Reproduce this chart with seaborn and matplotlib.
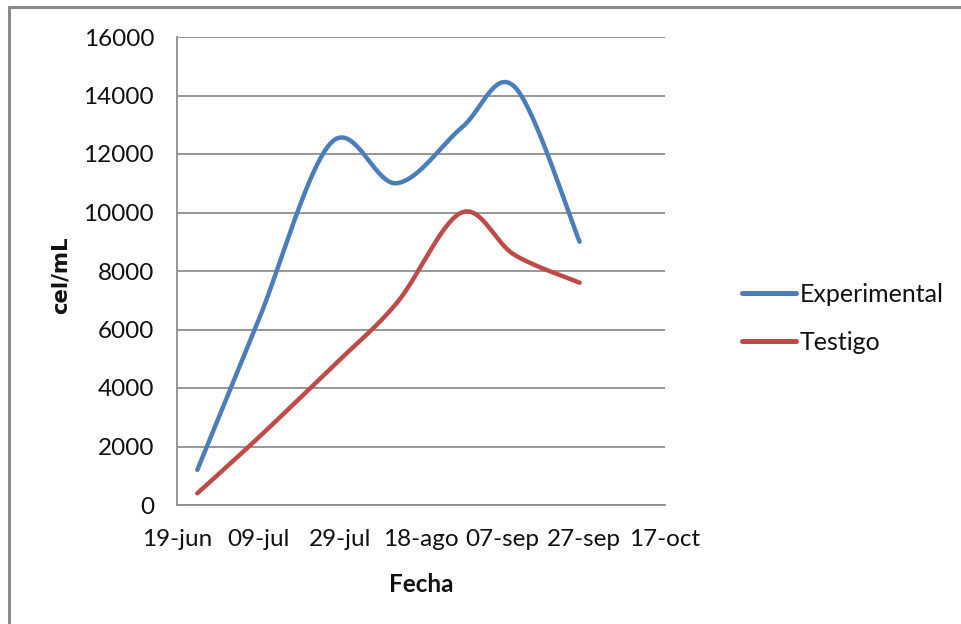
import numpy as np
import pandas as pd
import matplotlib
matplotlib.use("Agg")
import matplotlib.pyplot as plt
import matplotlib.dates as mdates
from matplotlib.lines import Line2D
import seaborn as sns

# Sampling dates and cell counts (cel/mL)
fechas = ["2011-06-24", "2011-07-09", "2011-07-27", "2011-08-12",
          "2011-08-28", "2011-09-10", "2011-09-26"]
experimental = [1200, 6300, 12400, 11000, 12900, 14300, 9000]
testigo = [400, 2300, 4700, 6900, 10000, 8550, 7600]
series_names = ["Experimental", "Testigo"]
colors = ["#4A7EBB", "#BE4B48"]

# Axis ticks
x_tick_dates = ["2011-06-19", "2011-07-09", "2011-07-29", "2011-08-18",
                "2011-09-07", "2011-09-27", "2011-10-17"]
x_tick_labels = ["19-jun", "09-jul", "29-jul", "18-ago", "07-sep", "27-sep", "17-oct"]
y_ticks = [0, 2000, 4000, 6000, 8000, 10000, 12000, 14000, 16000]

sns.set_style("white")
plt.rcParams["font.family"] = ["Lato", "DejaVu Sans"]

W, H = 961, 624
fig = plt.figure(figsize=(W / 100, H / 100), dpi=100)
ax = fig.add_axes([177 / W, 1 - 505 / H, (665 - 177) / W, (505 - 37) / H])

xmin = mdates.date2num(pd.Timestamp(x_tick_dates[0]))
xmax = mdates.date2num(pd.Timestamp(x_tick_dates[-1]))
ymin, ymax = y_ticks[0], y_ticks[-1]


def smooth(xs, ys, n=40):
    """Bezier smoothing through every point (Catmull-Rom style), computed in
    units proportional to the plot area so the curve bends evenly."""
    sx = 1.0 / (xmax - xmin)
    sy = 1.0 / (ymax - ymin) * ((505 - 37) / (665 - 177))
    pts = np.column_stack([np.asarray(xs, float) * sx,
                           np.asarray(ys, float) * sy])
    out = [pts[0]]
    m = len(pts)
    for i in range(m - 1):
        p0 = pts[i - 1] if i > 0 else pts[i]
        p1, p2 = pts[i], pts[i + 1]
        p3 = pts[i + 2] if i + 2 < m else pts[i + 1]
        c1 = p1 + (p2 - p0) / 6.0
        c2 = p2 - (p3 - p1) / 6.0
        t = np.linspace(0, 1, n)[1:, None]
        seg = ((1 - t) ** 3) * p1 + 3 * ((1 - t) ** 2) * t * c1 \
            + 3 * (1 - t) * t ** 2 * c2 + t ** 3 * p2
        out.extend(seg)
    out = np.array(out)
    return out[:, 0] / sx, out[:, 1] / sy


xnum = [mdates.date2num(pd.Timestamp(d)) for d in fechas]
frames = []
for name, vals in zip(series_names, [experimental, testigo]):
    cx, cy = smooth(xnum, vals)
    frames.append(pd.DataFrame({"fecha": mdates.num2date(cx), "cel": cy,
                                "serie": name}))
curve = pd.concat(frames, ignore_index=True)
curve["fecha"] = pd.to_datetime(curve["fecha"]).dt.tz_localize(None)

sns.lineplot(data=curve, x="fecha", y="cel", hue="serie", units="serie",
             estimator=None, sort=False, palette=colors, linewidth=3.2,
             ax=ax, legend=False, zorder=3)
for ln in ax.get_lines():
    ln.set_solid_capstyle("round")

ax.set_xlim(pd.Timestamp(x_tick_dates[0]), pd.Timestamp(x_tick_dates[-1]))
ax.set_ylim(ymin, ymax)
ax.set_xticks([pd.Timestamp(d) for d in x_tick_dates])
ax.set_xticklabels(x_tick_labels)
ax.set_yticks(y_ticks)
ax.set_yticklabels([str(v) for v in y_ticks])

grid_c = "#8f8f8f"
ax.grid(axis="y", color=grid_c, linewidth=1.3)
ax.grid(axis="x", visible=False)
for side in ["top", "right"]:
    ax.spines[side].set_visible(False)
for side in ["left", "bottom"]:
    ax.spines[side].set_color(grid_c)
    ax.spines[side].set_linewidth(1.3)
ax.tick_params(axis="both", which="major", direction="out", length=6.5,
               width=1.3, color=grid_c, labelsize=17.5, labelcolor="#111111")
ax.tick_params(axis="y", pad=10)
ax.tick_params(axis="x", pad=11)

ax.set_xlabel("Fecha", fontsize=17.5, fontweight="bold", color="#111111",
              va="center", ha="center")
ax.xaxis.set_label_coords((421 - 177) / 488, -(585 - 505) / 468)
ax.set_ylabel("cel/mL", fontsize=15.3, fontweight="bold", color="#111111",
              family=["DejaVu Sans"], va="center", ha="center")
ax.yaxis.set_label_coords((61 - 177) / 488, (505 - 275) / 468)

handles = [Line2D([0], [0], color=c, linewidth=3.6, solid_capstyle="round")
           for c in colors]
fig.legend(handles, series_names, loc="center left",
           bbox_to_anchor=(742 / W, 1 - 318.5 / H), frameon=False,
           fontsize=18, handlelength=2.16, handletextpad=0.16,
           labelspacing=0.99, borderpad=0, borderaxespad=0,
           labelcolor="#111111")

# Outer frame (top and left edges)
frame_c = "#8a8a8a"
fig.add_artist(Line2D([8.5 / W, 1.0], [1 - 6.5 / H, 1 - 6.5 / H],
                      transform=fig.transFigure, color=frame_c, linewidth=2.2))
fig.add_artist(Line2D([8.5 / W, 8.5 / W], [0.0, 1 - 6.5 / H],
                      transform=fig.transFigure, color=frame_c, linewidth=2.2))

fig.savefig("out.png", dpi=100)
